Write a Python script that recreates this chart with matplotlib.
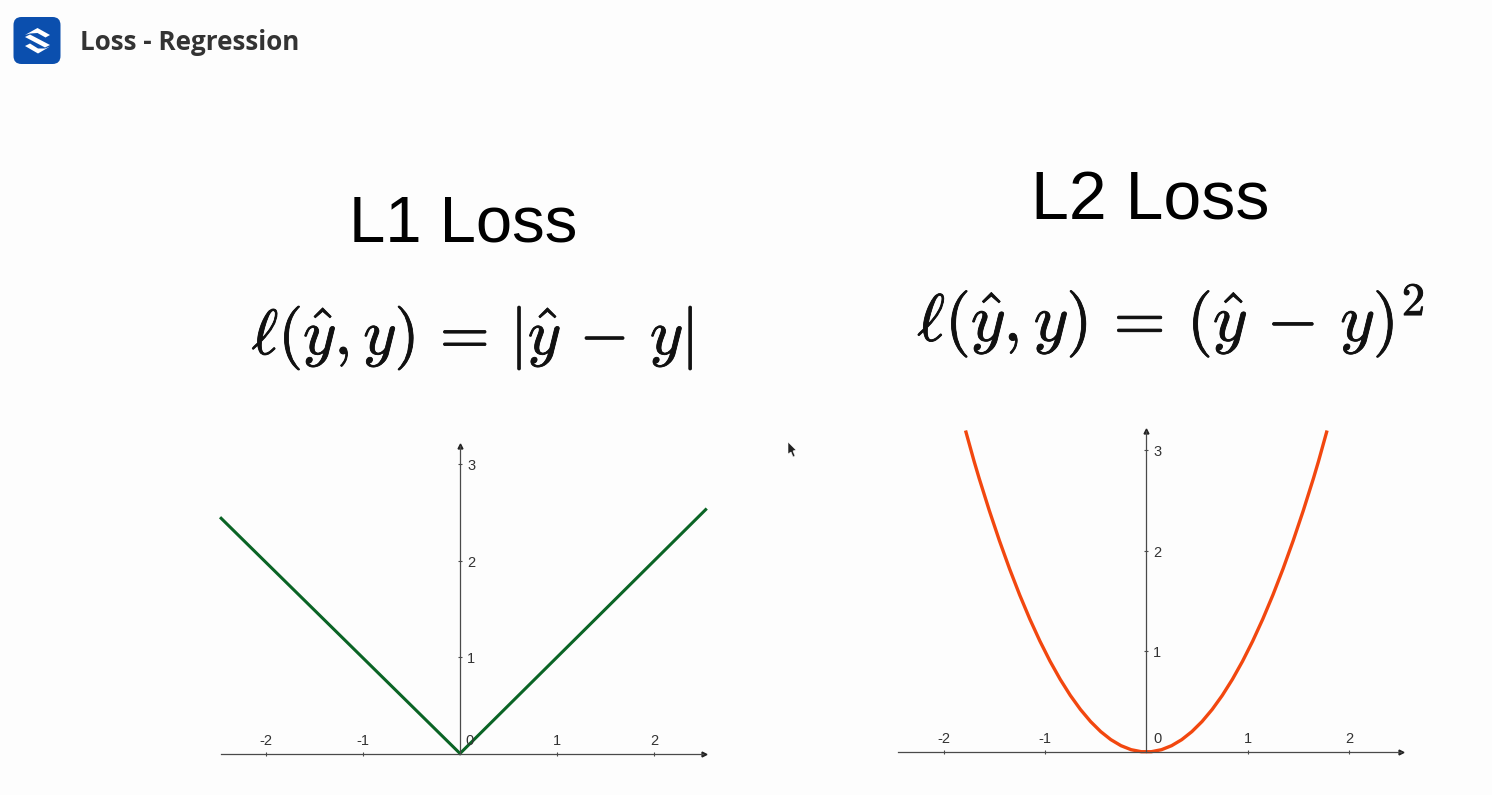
import matplotlib
matplotlib.use("Agg")
import matplotlib.pyplot as plt
import matplotlib.patheffects as pe
from matplotlib.patches import FancyBboxPatch, Polygon

W, H = 1492, 795
BG = "#fdfdfd"
AXIS = "#4a4a4a"

l1_x = [-2.46, 0.0, 2.53]
l1_y = [2.44, 0.0, 2.53]

l2_x = [-1.78, -1.7, -1.65, -1.6, -1.55, -1.5, -1.45, -1.4, -1.35, -1.3, -1.25, -1.2, -1.15, -1.1,
        -1.05, -1.0, -0.95, -0.9, -0.85, -0.8, -0.75, -0.7, -0.65, -0.6, -0.55, -0.5, -0.45, -0.4,
        -0.35, -0.3, -0.25, -0.2, -0.15, -0.1, -0.05, 0.0, 0.05, 0.1, 0.15, 0.2, 0.25, 0.3, 0.35,
        0.4, 0.45, 0.5, 0.55, 0.6, 0.65, 0.7, 0.75, 0.8, 0.85, 0.9, 0.95, 1.0, 1.05, 1.1, 1.15,
        1.2, 1.25, 1.3, 1.35, 1.4, 1.45, 1.5, 1.55, 1.6, 1.65, 1.7, 1.78]
l2_y = [3.18, 2.89, 2.72, 2.56, 2.4, 2.25, 2.1, 1.96, 1.82, 1.69, 1.56, 1.44, 1.32, 1.21,
        1.1, 1.0, 0.9, 0.81, 0.72, 0.64, 0.56, 0.49, 0.42, 0.36, 0.3, 0.25, 0.2, 0.16,
        0.12, 0.09, 0.06, 0.04, 0.02, 0.01, 0.0, 0.0, 0.0, 0.01, 0.02, 0.04, 0.06, 0.09, 0.12,
        0.16, 0.2, 0.25, 0.3, 0.36, 0.42, 0.49, 0.56, 0.64, 0.72, 0.81, 0.9, 1.0, 1.1, 1.21, 1.32,
        1.44, 1.56, 1.69, 1.82, 1.96, 2.1, 2.25, 2.4, 2.56, 2.72, 2.89, 3.18]

x_ticks = [-2, -1, 0, 1, 2]
y_ticks = [1, 2, 3]

header = "Loss - Regression"
l1_title = "L1 Loss"
l2_title = "L2 Loss"
l1_formula = r"$\ell(\hat{y},y)\,=\,|\hat{y}\,-\,y|$"
l2_formula = r"$\ell(\hat{y},y)\,=\,(\hat{y}\,-\,y)^2$"

plt.rcParams["mathtext.fontset"] = "cm"


def make_axes(fig, left, right, top, base, x0, xunit, yunit):
    # pixel box of the plot -> axes with matching data limits
    ax = fig.add_axes([left / W, 1 - base / H, (right - left) / W, (base - top) / H])
    ax.set_xlim((left - x0) / xunit, (right - x0) / xunit)
    ax.set_ylim(0, (base - top) / yunit)
    ax.patch.set_alpha(0)
    for side in ["top", "right"]:
        ax.spines[side].set_visible(False)
    ax.spines["left"].set_position(("data", 0))
    ax.spines["left"].set_color(AXIS)
    ax.spines["bottom"].set_color(AXIS)
    ax.spines["left"].set_linewidth(0.9)
    ax.spines["bottom"].set_linewidth(0.9)
    ax.set_xticks([t for t in x_ticks if t != 0])
    ax.set_yticks(y_ticks)
    ax.set_xticklabels([])
    ax.set_yticklabels([])
    ax.tick_params(length=3, width=0.8, color=AXIS, direction="inout")
    ax.plot(1, 0, ">", color="#222222", ms=3.5, transform=ax.transAxes, clip_on=False)
    ax.plot(0, 1, "^", color="#222222", ms=3.5, transform=ax.get_xaxis_transform(), clip_on=False)
    return ax


def tick_text(ax, xoff, yoff):
    for t in x_ticks:
        ax.annotate(str(t), (t, 0), xytext=(xoff if t == 0 else 0, yoff), textcoords="offset points",
                    ha="center", va="center", fontsize=10.5, family="Liberation Sans", color="#333333")
    for t in y_ticks:
        ax.annotate(str(t), (0, t), xytext=(8, -1.5), textcoords="offset points",
                    ha="center", va="center", fontsize=10.5, family="Liberation Sans", color="#333333")


fig = plt.figure(figsize=(W / 100, H / 100), dpi=100, facecolor=BG)

# page layer in pixel coordinates, for header, logo and cursor
page = fig.add_axes([0, 0, 1, 1])
page.set_xlim(0, W)
page.set_ylim(H, 0)
page.axis("off")

page.add_patch(FancyBboxPatch((13.5, 17), 47, 47, boxstyle="round,pad=0,rounding_size=8",
                              fc="#0b4fae", ec="none"))
for pts in [[(25, 35), (37.5, 28), (50, 35), (45.5, 37.5), (37.5, 33), (30, 33.5)],
            [(25, 37), (30, 34.5), (50, 45), (45, 47.5)],
            [(25, 46), (30, 43.5), (38, 48.5), (45, 48.5), (50, 46.5), (38, 53.5)]]:
    page.add_patch(Polygon(pts, closed=True, fc="white", ec="none"))
page.text(80, 40, header, fontsize=18.7, fontweight="bold", family="Open Sans", color="#333333",
          ha="left", va="center_baseline")

page.add_patch(Polygon([(788, 442), (788, 454), (791, 452), (793, 457), (795, 456), (793, 451), (796, 450)],
                       closed=True, fc="#222222", ec="white", lw=0.4))

page.text(463, 224, l1_title, fontsize=47, family="Liberation Sans", color="black", ha="center", va="center")
page.text(1150, 202, l2_title, fontsize=49, family="Liberation Sans", color="black", ha="center", va="center")
thick = [pe.withStroke(linewidth=0.6, foreground="#111111")]
page.text(472.5, 338, l1_formula, fontsize=46, color="#111111", ha="center", va="center", path_effects=thick)
page.text(1171, 321, l2_formula, fontsize=48, color="#111111", ha="center", va="center", path_effects=thick)

ax1 = make_axes(fig, 221, 703.5, 446, 753.5, 460, 97.1, 96.4)
ax1.plot(l1_x, l1_y, color="#0a6425", lw=2.2, clip_on=False, solid_joinstyle="miter")
tick_text(ax1, 7, 9)

ax2 = make_axes(fig, 898, 1400.5, 431, 751.7, 1146.3, 101.3, 100.5)
ax2.plot(l2_x, l2_y, color="#f2470f", lw=2.4, clip_on=False)
tick_text(ax2, 8, 9.5)

fig.savefig("out.png", dpi=100, facecolor=BG)
